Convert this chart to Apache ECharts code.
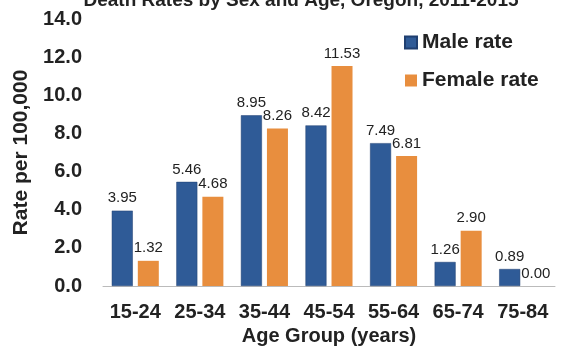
<!DOCTYPE html>
<html>
<head>
<meta charset="utf-8">
<script src="https://cdn.jsdelivr.net/npm/echarts@6/dist/echarts.min.js"></script>
<style>
  html, body { margin: 0; padding: 0; background: #fff; }
  #chart { width: 561px; height: 346px; }
</style>
</head>
<body>
<div id="chart"></div>
<script>
// Death rates per 100,000 by sex and age group
const ageGroups = ['15-24', '25-34', '35-44', '45-54', '55-64', '65-74', '75-84'];
const maleRate = [3.95, 5.46, 8.95, 8.42, 7.49, 1.26, 0.89];
const femaleRate = [1.32, 4.68, 8.26, 11.53, 6.81, 2.90, 0.00];
const yTicks = [0, 2, 4, 6, 8, 10, 12, 14];

const FONT = 'Liberation Sans, Arial, sans-serif';

const chart = echarts.init(document.getElementById('chart'), null, { renderer: 'canvas' });

const valueLabel = {
  show: true,
  position: 'top',
  distance: 5,
  color: '#222',
  fontFamily: FONT,
  fontSize: 15,
  formatter: p => p.value.toFixed(2)
};

chart.setOption({
  animation: false,
  backgroundColor: '#fff',
  title: {
    text: 'Death Rates by Sex and Age, Oregon, 2011-2015',
    left: 296,
    textAlign: 'center',
    top: -14,
    textStyle: { fontFamily: FONT, fontSize: 19, fontWeight: 'bold', color: '#222' }
  },
  legend: {
    orient: 'vertical',
    left: 399,
    top: 27,
    itemWidth: 12,
    itemHeight: 12,
    itemGap: 17,
    icon: 'rect',
    textStyle: { fontFamily: FONT, fontSize: 21, fontWeight: 'bold', color: '#222' },
    data: ['Male rate', 'Female rate']
  },
  grid: { left: 103, right: 6, top: 19, bottom: 60, containLabel: false, outerBoundsMode: 'none' },
  xAxis: {
    type: 'category',
    data: ageGroups,
    name: 'Age Group (years)',
    nameLocation: 'middle',
    nameGap: 34,
    nameTextStyle: { fontFamily: FONT, fontSize: 20, fontWeight: 'bold', color: '#222' },
    axisLine: { lineStyle: { color: '#bbb', width: 1 } },
    axisTick: { show: false },
    axisLabel: { interval: 0, fontFamily: FONT, fontSize: 20, fontWeight: 'bold', color: '#222', margin: 16 }
  },
  yAxis: {
    type: 'value',
    min: yTicks[0],
    max: yTicks[yTicks.length - 1],
    interval: 2,
    name: 'Rate per 100,000',
    nameLocation: 'middle',
    nameGap: 70,
    nameRotate: 90,
    nameTextStyle: { fontFamily: FONT, fontSize: 21, fontWeight: 'bold', color: '#222' },
    axisLine: { show: false },
    axisTick: { show: false },
    splitLine: { show: false },
    axisLabel: {
      fontFamily: FONT, fontSize: 20, fontWeight: 'bold', color: '#222', margin: 21,
      formatter: v => v.toFixed(1)
    }
  },
  series: [
    {
      name: 'Male rate',
      type: 'bar',
      data: maleRate,
      barWidth: 21,
      barGap: '24%',
      itemStyle: { color: '#2F5B97', borderColor: '#1F3F70', borderWidth: 0.5 },
      label: valueLabel
    },
    {
      name: 'Female rate',
      type: 'bar',
      data: femaleRate,
      barWidth: 21,
      itemStyle: { color: '#E88E3E' },
      label: valueLabel
    }
  ]
});
</script>
</body>
</html>
